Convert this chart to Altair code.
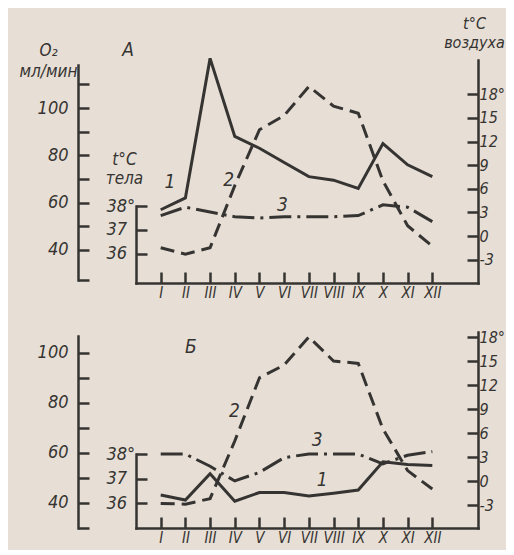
import json
import pandas as pd
import altair as alt

# ---------------- data ----------------
MONTHS = ["I", "II", "III", "IV", "V", "VI", "VII", "VIII", "IX", "X", "XI", "XII"]
MONTH_NUM = list(range(1, 13))

# Panel A
A_O2 = [57, 62, 121, 88, 83, 77, 71, 69.5, 66, 85, 76, 71]
A_AIR = [-1.5, -2.3, -1.5, 6.4, 13.5, 15.3, 19, 16.5, 15.6, 7, 1.3, -1.3]
A_BODY = [37.6, 37.95, 37.75, 37.55, 37.5, 37.55, 37.55, 37.55, 37.6, 38.05, 37.95, 37.35]

# Panel B
B_O2 = [43, 41, 51.5, 40.5, 44, 44, 42.6, 43.7, 45, 56.3, 55.2, 54.8]
B_AIR = [-2.8, -2.9, -2.2, 5, 12.9, 14.5, 18, 15, 14.7, 6.5, 1.3, -1]
B_BODY = [38.0, 38.0, 37.5, 36.9, 37.25, 37.85, 38.0, 38.0, 38.0, 37.6, 37.95, 38.1]

# tick values
O2_TICKS_A = [40, 50, 60, 70, 80, 90, 100, 110]
O2_TICKS_B = [40, 50, 60, 70, 80, 90, 100]
O2_LABELS = [40, 60, 80, 100]
BODY_TICKS = [36, 37, 38]
AIR_TICKS = [-3, 0, 3, 6, 9, 12, 15, 18]

# curve tags (month position, value in the curve's own units)
A_TAG1 = [1.37, 68.7]
A_TAG2 = [3.75, 7.1]
A_TAG3 = [5.93, 38.04]
B_TAG1 = [7.54, 49.0]
B_TAG2 = [3.99, 8.75]
B_TAG3 = [7.34, 38.57]
PANEL_A = [-0.32, 23.6]
PANEL_B = [2.22, 16.75]

# ---------------- layout / style ----------------
W, H = 342, 473
INK = "#363432"
BG = "#e7dfd5"
FONT = "Liberation Sans Narrow, DejaVu Sans Condensed, Liberation Sans, sans-serif"

# axis extents (domain) and their pixel spans (range) inside the plot
A_O2_SC = dict(domain=[27.3, 118.2], range=[225, 10])
A_BODY_SC = dict(domain=[34.79, 38], range=[228, 151])
A_AIR_SC = dict(domain=[-5.97, 22.36], range=[228, 5])
B_O2_SC = dict(domain=[29.8, 106.6], range=[473, 281])
B_BODY_SC = dict(domain=[34.98, 38], range=[473, 399])
B_AIR_SC = dict(domain=[-5.875, 18.625], range=[473, 277])


def ysc(d):
    return alt.Scale(domain=d["domain"], range=d["range"], nice=False, zero=False)


def xsc():
    return alt.Scale(domain=[0, 13.85], range=[0, W], nice=False, zero=False)


ROMAN_EXPR = json.dumps(MONTHS) + "[datum.value - 1]"

TS = 11  # tick length


def x_ticks_axis(offset):
    return alt.Axis(orient="bottom", offset=offset, domain=False, tickSize=TS,
                    values=MONTH_NUM, labelExpr=ROMAN_EXPR, labelPadding=2,
                    labelFontSize=15, title=None, grid=False)


def x_domain_axis(offset):
    return alt.Axis(orient="bottom", offset=offset, domain=True, ticks=False,
                    labels=False, title=None, grid=False)


def o2_ticks_axis(ext_min, ticks):
    return alt.Axis(orient="left", offset=47, domain=False, tickSize=TS,
                    values=[ext_min] + ticks,
                    labelExpr="indexof(" + json.dumps(O2_LABELS) + ", datum.value) >= 0 ? datum.label : ''",
                    labelPadding=10, labelAlign="right", title=None, grid=False)


def body_ticks_axis():
    return alt.Axis(orient="left", offset=-TS, domain=False, tickSize=TS,
                    values=BODY_TICKS,
                    labelExpr="datum.value == 38 ? '38°' : datum.label",
                    labelPadding=30, labelAlign="left", title=None, grid=False)


def air_ticks_axis():
    return alt.Axis(orient="right", offset=-TS, domain=False, tickSize=TS,
                    values=AIR_TICKS,
                    labelExpr="datum.value == 18 ? '18°' : (datum.value < 0 ? '-' + (-datum.value) : datum.label)",
                    labelPadding=1, labelFontSize=16, labelAlign="left", title=None, grid=False)


def dom_axis(orient, offset, title=None, tx=0, ty=0, lh=20, size=17):
    kw = dict(orient=orient, offset=offset, domain=True, ticks=False, labels=False, grid=False)
    if title is not None:
        kw.update(title=title, titleAngle=0, titleX=tx, titleY=ty, titleAlign="center",
                  titleBaseline="alphabetic", titleLineHeight=lh, titleFontSize=size)
    else:
        kw.update(title=None)
    return alt.Axis(**kw)


def series_df(vals):
    return pd.DataFrame({"m": MONTH_NUM, "v": vals})


def line(vals, sc, yaxis, xaxis, dash=None):
    mk = dict(color=INK, strokeWidth=3)
    if dash:
        mk["strokeDash"] = dash
    return alt.Chart(series_df(vals)).mark_line(**mk).encode(
        x=alt.X("m:Q", scale=xsc(), axis=xaxis),
        y=alt.Y("v:Q", scale=ysc(sc), axis=yaxis),
    )


def tag(txt, pos, sc, yaxis, size=19):
    df = pd.DataFrame({"m": [pos[0]], "v": [pos[1]], "t": [txt]})
    return alt.Chart(df).mark_text(font=FONT, fontSize=size, fontStyle="italic",
                                   color=INK, align="center", baseline="middle").encode(
        x=alt.X("m:Q", scale=xsc(), axis=None),
        y=alt.Y("v:Q", scale=ysc(sc), axis=yaxis),
        text="t:N",
    )


DASH2 = [14, 7]
DASH3 = [22, 6, 3, 6]

layers = [
    # ---- panel A ----
    line(A_O2, A_O2_SC, o2_ticks_axis(A_O2_SC["domain"][0], O2_TICKS_A), x_ticks_axis(-256)),
    line(A_AIR, A_AIR_SC, air_ticks_axis(), x_domain_axis(-245), DASH2),
    line(A_BODY, A_BODY_SC, body_ticks_axis(), None, DASH3),
    tag("1", A_TAG1, A_O2_SC, dom_axis("left", 58, ["O₂", "мл/мин"], -30, 0, 21)),
    tag("2", A_TAG2, A_AIR_SC, dom_axis("right", 0, ["t°C", "воздуха"], -4, -27, 19, 16)),
    tag("3", A_TAG3, A_BODY_SC, dom_axis("left", 0, ["t°C", "тела"], -12, 109, 19)),
    tag("А", PANEL_A, A_AIR_SC, None),
    # ---- panel B ----
    line(B_O2, B_O2_SC, o2_ticks_axis(B_O2_SC["domain"][0], O2_TICKS_B), x_ticks_axis(-TS)),
    line(B_AIR, B_AIR_SC, air_ticks_axis(), x_domain_axis(0), DASH2),
    line(B_BODY, B_BODY_SC, body_ticks_axis(), None, DASH3),
    tag("1", B_TAG1, B_O2_SC, dom_axis("left", 58)),
    tag("2", B_TAG2, B_AIR_SC, dom_axis("right", 0)),
    tag("3", B_TAG3, B_BODY_SC, dom_axis("left", 0)),
    tag("Б", PANEL_B, B_AIR_SC, None),
]

chart = (
    alt.layer(*layers)
    .resolve_scale(x="independent", y="independent")
    .properties(width=W, height=H, background=BG,
                autosize=alt.AutoSizeParams(type="none"),
                padding={"left": 128, "top": 47, "right": 28, "bottom": 22})
    .configure_view(stroke=None)
    .configure_axis(labelFont=FONT, labelFontSize=18, labelFontStyle="italic",
                    labelColor=INK, titleFont=FONT, titleFontSize=17,
                    titleFontStyle="italic", titleFontWeight="normal", titleColor=INK,
                    tickColor=INK, domainColor=INK, tickWidth=2.5, domainWidth=2.5,
                    domainCap="square", grid=False, labelOverlap=False, labelFlush=False,
                    labelBound=False)
)

chart.save("out.html", embed_options={"renderer": "svg", "actions": False})
